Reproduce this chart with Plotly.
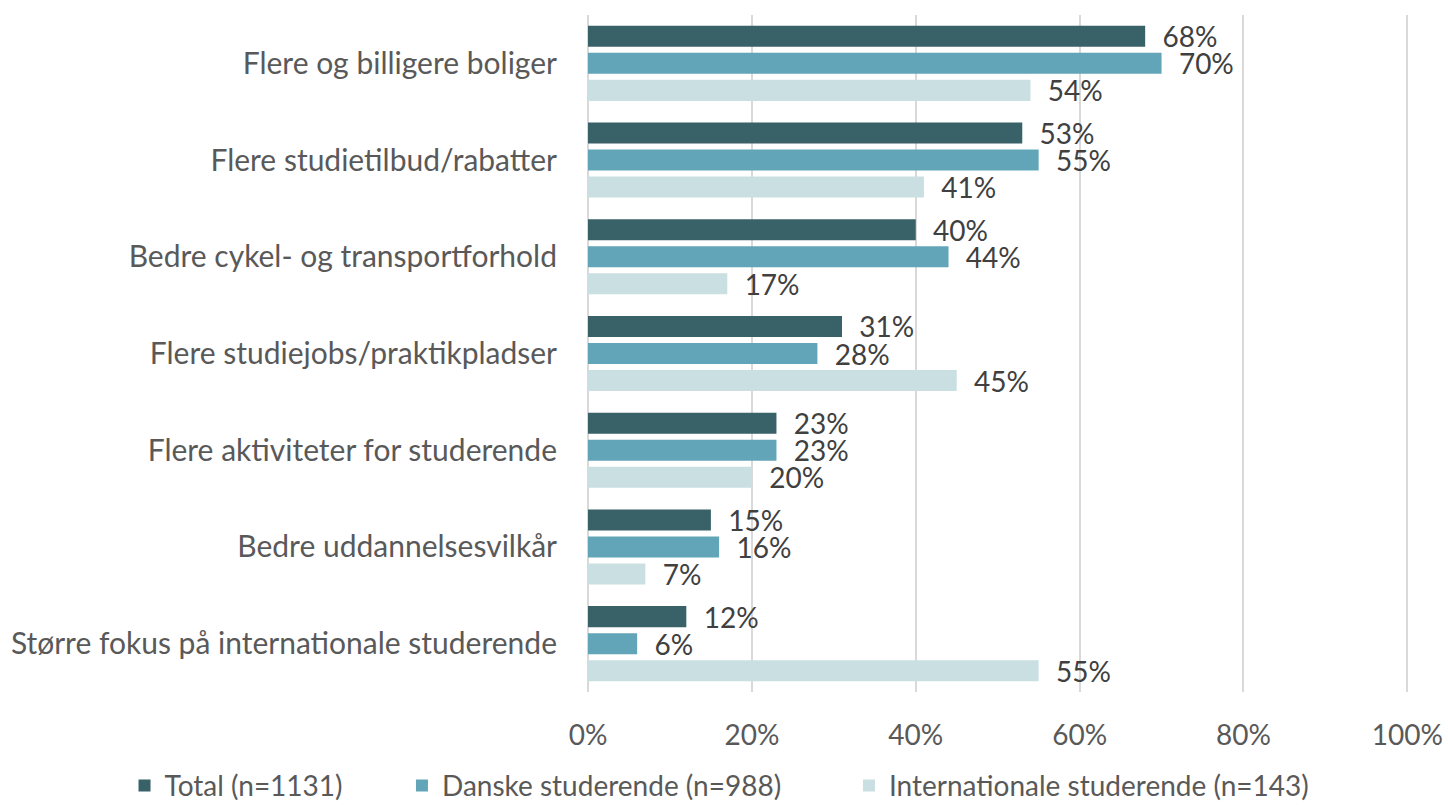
import plotly.graph_objects as go

categories = [
    "Flere og billigere boliger",
    "Flere studietilbud/rabatter",
    "Bedre cykel- og transportforhold",
    "Flere studiejobs/praktikpladser",
    "Flere aktiviteter for studerende",
    "Bedre uddannelsesvilkår",
    "Større fokus på internationale studerende",
]
total = [68, 53, 40, 31, 23, 15, 12]
danske = [70, 55, 44, 28, 23, 16, 6]
internationale = [54, 41, 17, 45, 20, 7, 55]

series_names = ["Total (n=1131)", "Danske studerende (n=988)", "Internationale studerende (n=143)"]
series_values = [total, danske, internationale]
colors = ["#386168", "#62A5B8", "#CADFE2"]
legend_ids = ["legend", "legend2", "legend3"]
legend_x = [0.086, 0.2776, 0.5863]

x_tickvals = [0, 20, 40, 60, 80, 100]
x_ticktext = ["0%", "20%", "40%", "60%", "80%", "100%"]

FONT = "Lato, 'Open Sans', sans-serif"

fig = go.Figure()
for name, vals, col, lg in zip(series_names, series_values, colors, legend_ids):
    fig.add_trace(go.Bar(
        y=categories, x=vals, name=name, orientation="h",
        marker=dict(color=col, line=dict(width=0)),
        text=[f"  {v}%" for v in vals], textposition="outside",
        constraintext="none",
        textfont=dict(size=28, color="#404040", family=FONT),
        cliponaxis=False, legend=lg,
    ))

legend_common = dict(orientation="h", xref="container", xanchor="left",
                     yref="container", y=0.024, yanchor="middle",
                     font=dict(size=28, color="#595959"),
                     bgcolor="rgba(0,0,0,0)")
legends = {}
for lg, lx in zip(legend_ids, legend_x):
    legends[lg] = dict(legend_common, x=lx)

fig.update_layout(
    barmode="group", bargap=0.162, bargroupgap=0.222,
    width=1448, height=805,
    margin=dict(l=588, r=39, t=15, b=113, autoexpand=False),
    paper_bgcolor="white", plot_bgcolor="white",
    font=dict(family=FONT, size=28, color="#595959"),
    showlegend=True,
    **legends,
)
fig.update_xaxes(range=[0, 100.2], tickmode="array", tickvals=x_tickvals, ticktext=x_ticktext,
                 showgrid=True, gridcolor="#D9D9D9", gridwidth=2,
                 zeroline=True, zerolinecolor="#D9D9D9", zerolinewidth=2,
                 showline=False, ticks="", ticklabelstandoff=24,
                 tickfont=dict(size=28, color="#595959"))
fig.update_yaxes(autorange="reversed", showgrid=False, ticks="", showline=False,
                 ticklabelstandoff=30, tickfont=dict(size=30, color="#595959"))

fig.write_html("out.html", config={"displayModeBar": False},
               post_script="document.body.style.margin='0';")
